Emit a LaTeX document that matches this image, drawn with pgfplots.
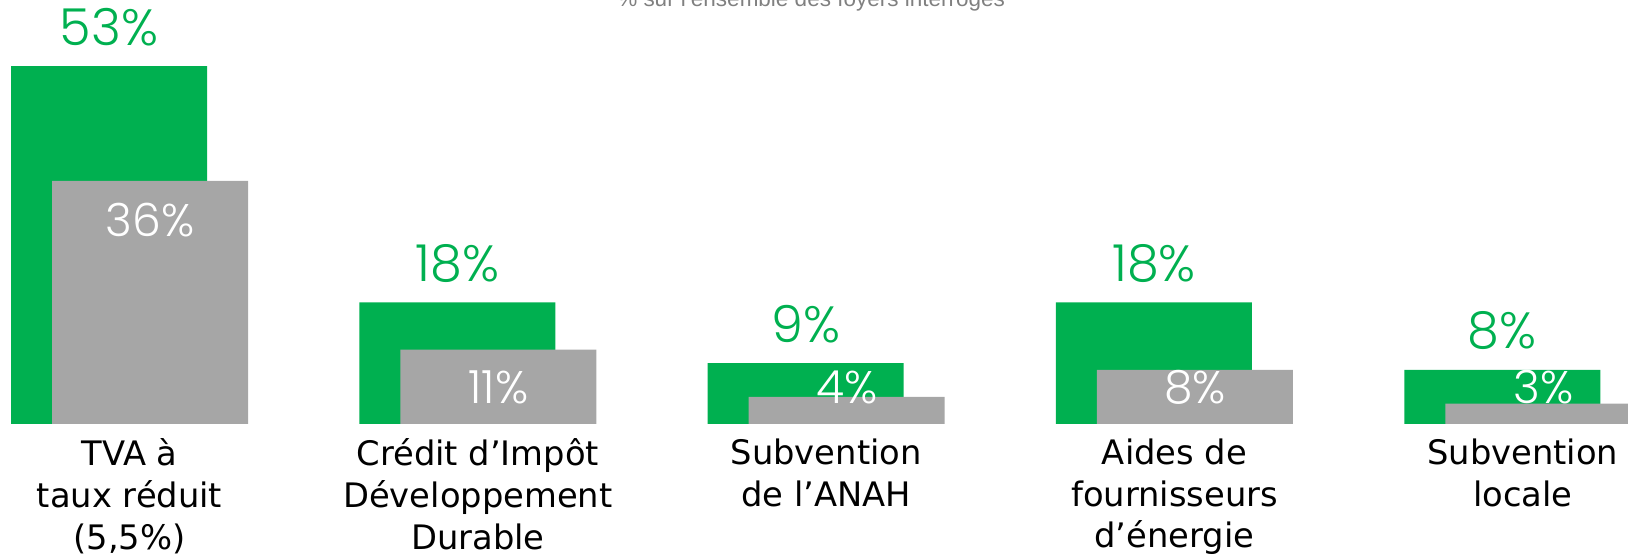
\documentclass[border=0pt]{standalone}
\usepackage{fontspec}
\setmainfont{DejaVu Sans}
\newfontfamily\numfont{Poppins Light}
\newfontfamily\titlefont{Liberation Sans}
\usepackage{pgfplots}
\pgfplotsset{compat=1.18}
\usepackage{pgfplotstable}
\definecolor{vert}{HTML}{00B050}
\definecolor{gris}{HTML}{A6A6A6}
\definecolor{titre}{HTML}{808080}

% green = first series, grey = second series, greylab = where the white label sits
\pgfplotstableread{
x green grey greylab
0 53 36 27.7
1 18 11 3.1
2 9  4  3.1
3 18 8  3.1
4 8  3  3.1
}\aides

\begin{document}
\begin{tikzpicture}
\begin{axis}[
    scale only axis,
    width=162.8mm,
    height=42.4mm,
    xmin=-0.313, xmax=4.361,
    ymin=0, ymax=62.8,
    hide y axis,
    axis x line*=bottom,
    axis line style={draw=none},
    major tick length=0pt,
    xtick={0.0589,1.0589,2.0589,3.0589,4.0589},
    xticklabels={{TVA à\\taux réduit\\(5,5\%)},
                 {Crédit d’Impôt\\Développement\\Durable},
                 {Subvention\\de l’ANAH},
                 {Aides de\\fournisseurs\\d’énergie},
                 {Subvention\\locale}},
    xticklabel style={align=center, anchor=north, inner sep=0pt, yshift=-1.4mm,
        font=\fontsize{9.6}{11.9}\selectfont},
    bar width=0.5627,
    /pgf/number format/assume math mode=true,
]
\addplot[ybar, bar shift=0pt, fill=vert, draw=none,
    nodes near coords={\numfont\pgfmathprintnumber{\pgfplotspointmeta}\%},
    every node near coord/.append style={anchor=base, yshift=2.1mm, text=vert,
        font=\fontsize{14.5}{14.5}\selectfont}]
    table[x=x, y=green] {\aides};
\addplot[ybar, bar shift=0pt, fill=gris, draw=none]
    table[x expr=\thisrow{x}+0.1177, y=grey] {\aides};
\addplot[draw=none, mark=none, point meta=\thisrow{grey},
    nodes near coords={\numfont\pgfmathprintnumber{\pgfplotspointmeta}\%},
    every node near coord/.append style={anchor=base, text=white,
        font=\fontsize{13}{13}\selectfont}]
    table[x expr=\thisrow{x}+0.1177, y=greylab] {\aides};
\node[anchor=base, text=titre, inner sep=0pt, font=\titlefont\fontsize{6.4}{6.4}\selectfont]
    at (axis cs:2.0155,61.78) {\% sur l’ensemble des foyers interrogés};
\coordinate (bbsw) at (axis cs:-0.313,-19.56);
\coordinate (bbne) at (axis cs:4.361,62.8);
\end{axis}
\pgfresetboundingbox
\useasboundingbox (bbsw) rectangle (bbne);
\end{tikzpicture}
\end{document}
